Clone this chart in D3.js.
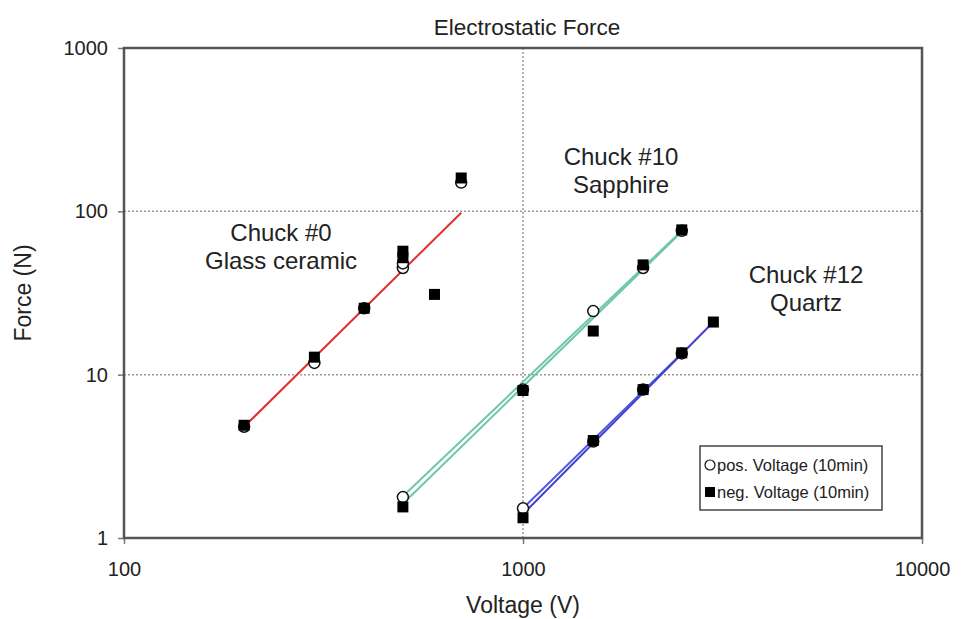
<!DOCTYPE html>
<html>
<head>
<meta charset="utf-8">
<script src="https://cdn.jsdelivr.net/npm/d3@7"></script>
<style>
  body { margin: 0; background: #fff; }
  text { font-family: 'Liberation Sans', Arial, sans-serif; fill: #222; }
</style>
</head>
<body>
<div id="chart"></div>
<script>
// voltage (V), force (N)
const glassPos = [[200, 4.8], [300, 11.8], [400, 25.5], [500, 45], [500, 48], [700, 150]]
const glassNeg = [[200, 4.9], [300, 12.8], [400, 25.5], [500, 57], [500, 52], [600, 31], [700, 160]]
const sapphirePos = [[500, 1.78], [1000, 8.1], [1500, 24.5], [2000, 45], [2500, 76]]
const sapphireNeg = [[500, 1.55], [1000, 8], [1500, 18.5], [2000, 47], [2500, 77]]
const quartzPos = [[1000, 1.52], [1500, 3.9], [2000, 8.1], [2500, 13.5]]
const quartzNeg = [[1000, 1.33], [1500, 3.95], [2000, 8.1], [2500, 13.6], [3000, 21]]

// trend lines, end points
const glassFit = [[200, 4.8], [700, 98]]
const sapphireFitPos = [[500, 1.8], [2500, 76]]
const sapphireFitNeg = [[500, 1.62], [2500, 75]]
const quartzFitPos = [[1000, 1.52], [2500, 13.5]]
const quartzFitNeg = [[1000, 1.4], [3000, 21]]

const xTicks = [100, 1000, 10000]
const yTicks = [1, 10, 100, 1000]
const legendLabels = ['pos. Voltage (10min)', 'neg. Voltage (10min)']

const margin = { top: 48, left: 124, right: 43, bottom: 81 }
const width = 965 - margin.left - margin.right
const height = 619 - margin.top - margin.bottom

const root = d3
  .select('#chart')
  .append('svg')
  .attr('width', 965)
  .attr('height', 619)

const svg = root
  .append('g')
  .attr('transform', `translate(${margin.left},${margin.top})`)

const x = d3.scaleLog().domain([100, 10000]).range([0, width])
const y = d3.scaleLog().domain([1, 1000]).range([height, 0])

// gridlines
svg
  .selectAll('.hgrid')
  .data([10, 100])
  .enter()
  .append('line')
  .attr('x1', 0)
  .attr('x2', width)
  .attr('y1', d => y(d))
  .attr('y2', d => y(d))
  .style('stroke', '#999')
  .style('stroke-width', 1.5)
  .style('stroke-dasharray', '2,2')

svg
  .selectAll('.vgrid')
  .data([1000])
  .enter()
  .append('line')
  .attr('y1', 0)
  .attr('y2', height)
  .attr('x1', d => x(d))
  .attr('x2', d => x(d))
  .style('stroke', '#999')
  .style('stroke-width', 1.5)
  .style('stroke-dasharray', '2,2')

// axes
const xAxis = d3
  .axisBottom(x)
  .tickValues(xTicks)
  .tickFormat(d3.format('d'))
  .tickSize(6)
  .tickPadding(18)
const yAxis = d3
  .axisLeft(y)
  .tickValues(yTicks)
  .tickFormat(d3.format('d'))
  .tickSize(6)
  .tickPadding(10)

const gx = svg
  .append('g')
  .attr('transform', `translate(0,${height})`)
  .call(xAxis)
const gy = svg.append('g').call(yAxis)

;[gx, gy].forEach(g => {
  g.select('.domain').remove()
  g.selectAll('line').style('stroke', '#777').style('stroke-width', 1.5)
  g.selectAll('text')
    .style('font-size', '20px')
    .style('font-family', "'Liberation Sans', Arial, sans-serif")
    .style('fill', '#222')
})

// plot frame
svg
  .append('rect')
  .attr('width', width)
  .attr('height', height)
  .style('fill', 'none')
  .style('stroke', '#555')
  .style('stroke-width', 2.5)

// trend lines
const line = d3
  .line()
  .x(d => x(d[0]))
  .y(d => y(d[1]))

const fits = [
  { pts: glassFit, color: '#e0302a' },
  { pts: sapphireFitPos, color: '#6fc7a6' },
  { pts: sapphireFitNeg, color: '#6fc7a6' },
  { pts: quartzFitPos, color: '#5555dd' },
  { pts: quartzFitNeg, color: '#4040d0' }
]

svg
  .selectAll('.fit')
  .data(fits)
  .enter()
  .append('path')
  .attr('d', d => line(d.pts))
  .style('fill', 'none')
  .style('stroke', d => d.color)
  .style('stroke-width', 2)

// markers
const posPoints = [].concat(glassPos, sapphirePos, quartzPos)
const negPoints = [].concat(glassNeg, sapphireNeg, quartzNeg)

svg
  .selectAll('.pos')
  .data(posPoints)
  .enter()
  .append('circle')
  .attr('cx', d => x(d[0]))
  .attr('cy', d => y(d[1]))
  .attr('r', 5.5)
  .style('fill', '#fff')
  .style('stroke', '#111')
  .style('stroke-width', 1.5)

svg
  .selectAll('.neg')
  .data(negPoints)
  .enter()
  .append('rect')
  .attr('x', d => x(d[0]) - 5.5)
  .attr('y', d => y(d[1]) - 5.5)
  .attr('width', 11)
  .attr('height', 11)
  .style('fill', '#000')

// chuck labels
const notes = [
  { lines: ['Chuck #0', 'Glass ceramic'], cx: 281, cy: 241 },
  { lines: ['Chuck #10', 'Sapphire'], cx: 621, cy: 165 },
  { lines: ['Chuck #12', 'Quartz'], cx: 806, cy: 283 }
]
notes.forEach(n => {
  root
    .selectAll(null)
    .data(n.lines)
    .enter()
    .append('text')
    .text(d => d)
    .attr('x', n.cx)
    .attr('y', (d, i) => n.cy + i * 28)
    .attr('text-anchor', 'middle')
    .style('font-size', '24px')
})

// titles
root
  .append('text')
  .text('Electrostatic Force')
  .attr('x', 527)
  .attr('y', 35)
  .attr('text-anchor', 'middle')
  .style('font-size', '22.5px')

root
  .append('text')
  .text('Voltage (V)')
  .attr('x', 523)
  .attr('y', 613)
  .attr('text-anchor', 'middle')
  .style('font-size', '23px')

root
  .append('text')
  .text('Force (N)')
  .attr('transform', 'translate(31,293) rotate(-90)')
  .attr('text-anchor', 'middle')
  .style('font-size', '23px')

// legend
const legend = root.append('g').attr('transform', 'translate(700,446)')
legend
  .append('rect')
  .attr('width', 182)
  .attr('height', 64)
  .style('fill', '#fff')
  .style('stroke', '#444')
  .style('stroke-width', 1.5)

legend
  .append('circle')
  .attr('cx', 10)
  .attr('cy', 19)
  .attr('r', 5)
  .style('fill', '#fff')
  .style('stroke', '#111')
  .style('stroke-width', 1.2)
legend
  .append('rect')
  .attr('x', 5)
  .attr('y', 41)
  .attr('width', 10)
  .attr('height', 10)
  .style('fill', '#000')

legend
  .selectAll('.legend-text')
  .data(legendLabels)
  .enter()
  .append('text')
  .text(d => d)
  .attr('x', 17)
  .attr('y', (d, i) => 25 + i * 27)
  .style('font-size', '16.5px')
</script>
</body>
</html>
